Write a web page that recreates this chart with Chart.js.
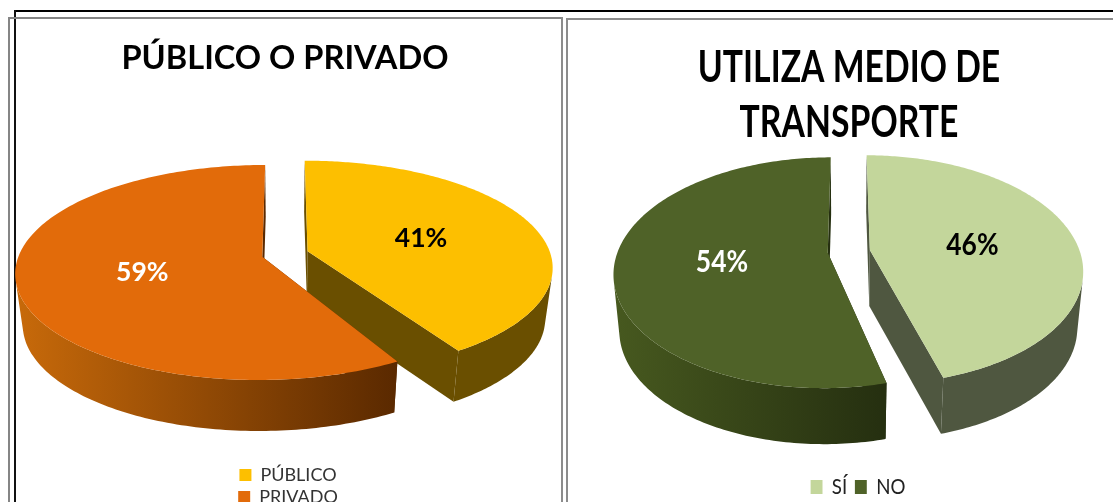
<!DOCTYPE html>
<html lang="es">
<head>
<meta charset="utf-8">
<title>Gráficos</title>
<script src="https://cdn.jsdelivr.net/npm/chart.js@4"></script>
<style>
  html,body{margin:0;padding:0;background:#fff;width:1113px;height:502px;overflow:hidden}
  .f{position:absolute}
  canvas{position:absolute;top:0}
</style>
</head>
<body>
<div class="f" style="left:14px;top:10px;width:1099px;height:2px;background:#000"></div>
<div class="f" style="left:14px;top:10px;width:2px;height:492px;background:#111"></div>
<div class="f" style="left:8px;top:17px;width:554px;height:2px;background:#858585"></div>
<div class="f" style="left:8px;top:17px;width:2px;height:485px;background:#858585"></div>
<div class="f" style="left:561px;top:17px;width:2px;height:485px;background:#8c8c8c"></div>
<div class="f" style="left:566px;top:18px;width:547px;height:2px;background:#8c8c8c"></div>
<div class="f" style="left:566px;top:18px;width:2px;height:484px;background:#8c8c8c"></div>
<canvas id="c1" width="570" height="520" style="left:0"></canvas>
<canvas id="c2" width="528" height="520" style="left:585px"></canvas>
<script>
const categoriesA = ['PÚBLICO', 'PRIVADO'];
const valuesA = [41, 59];
const colorsA = ['#FDBF00', '#E26B0A'];
const labelColorsA = ['#000000', '#FFFFFF'];
const titleA = 'PÚBLICO O PRIVADO';

const categoriesB = ['SÍ', 'NO'];
const valuesB = [46, 54];
const colorsB = ['#C3D69B', '#4F6228'];
const labelColorsB = ['#000000', '#FFFFFF'];
const titleB = ['UTILIZA MEDIO DE', 'TRANSPORTE'];

const FONT = 'Lato, Carlito, sans-serif';

function scaledDraw(box, chart, midX, sx) {
  const draw = box.draw.bind(box);
  box.draw = function () {
    const c = chart.ctx;
    c.save();
    c.translate(midX, 0);
    c.scale(sx, 1);
    c.translate(-midX, 0);
    draw();
    c.restore();
  };
}

function pie3d(g) {
  // Projects each library-computed arc onto a tilted plane with perspective.
  const proj = (u, v, low) => {
    const w = 1 + g.k * v;
    const sx = low ? g.shrink : 1;
    return [g.cx + sx * g.rx * u / w, g.cy - g.ry * v / w + (low ? g.depth : 0)];
  };
  const area = (q) => q.reduce((s, p, i) => {
    const n = q[(i + 1) % q.length];
    return s + p[0] * n[1] - n[0] * p[1];
  }, 0);
  let wrapped = false;
  return {
    id: 'pie3d',
    afterLayout(chart) {
      const tb = chart.titleBlock, lg = chart.legend;
      tb.left = 0;
      tb.right = chart.width;
      lg.left += g.legendShift;
      lg.right += g.legendShift;
      if (!wrapped) {
        wrapped = true;
        if (g.titleScale !== 1) scaledDraw(tb, chart, chart.width / 2, g.titleScale);
        if (g.legendScale !== 1) scaledDraw(lg, chart, chart.width / 2 + g.legendShift, g.legendScale);
      }
    },
    beforeDatasetsDraw(chart) {
      const ctx = chart.ctx;
      const arcs = chart.getDatasetMeta(0).data;
      const values = chart.data.datasets[0].data;
      const colors = chart.data.datasets[0].backgroundColor;
      arcs.forEach((arc, i) => {
        const rawStart = arc.startAngle + Math.PI / 2, rawEnd = arc.endAngle + Math.PI / 2;
        const mid = (rawStart + rawEnd) / 2;
        const a0 = rawStart + g.nudge[i][0], a1 = rawEnd + g.nudge[i][1];
        const ou = g.explode[i] * Math.sin(mid), ov = g.explode[i] * Math.cos(mid);
        const N = 200, rim = [];
        for (let n = 0; n <= N; n++) {
          const t = a0 + (a1 - a0) * n / N;
          rim.push([ou + Math.sin(t), ov + Math.cos(t)]);
        }
        const poly = (pts) => {
          pts.forEach((p, n) => n ? ctx.lineTo(p[0], p[1]) : ctx.moveTo(p[0], p[1]));
          ctx.closePath();
        };
        const w = g.walls[i];
        // cut walls
        ctx.fillStyle = g.cut[i];
        [rim[0], rim[N]].forEach(e => {
          ctx.beginPath();
          poly([proj(ou, ov), proj(e[0], e[1]), proj(e[0], e[1], true), proj(ou, ov, true)]);
          ctx.fill();
        });
        // outer wall: front-facing rim steps only, filled as a single path
        const top = rim.map(p => proj(p[0], p[1]));
        const low = rim.map(p => proj(p[0], p[1], true));
        const xs = top.map(p => p[0]);
        const grad = ctx.createLinearGradient(Math.min(...xs), 0, Math.max(...xs), 0);
        grad.addColorStop(0, w[0]);
        grad.addColorStop(1, w[1]);
        ctx.fillStyle = grad;
        ctx.beginPath();
        for (let n = 0; n < N; n++) {
          const q = [top[n], top[n + 1], low[n + 1], low[n]];
          if (area(q) < 0) poly(q);
        }
        ctx.fill();
        // top face
        ctx.fillStyle = colors[i];
        ctx.beginPath();
        poly([proj(ou, ov)].concat(top));
        ctx.fill();
      });
      arcs.forEach((arc, i) => {
        const mid = (arc.startAngle + arc.endAngle) / 2 + Math.PI / 2;
        const u = (g.explode[i] + 0.5) * Math.sin(mid), v = (g.explode[i] + 0.5) * Math.cos(mid);
        const p = proj(u, v);
        ctx.save();
        ctx.translate(p[0], p[1] + g.labelDy);
        ctx.scale(g.labelScale, 1);
        ctx.font = g.labelFont;
        ctx.textAlign = 'center';
        ctx.textBaseline = 'middle';
        ctx.fillStyle = g.labelColors[i];
        ctx.fillText(values[i] + '%', 0, 0);
        ctx.restore();
      });
      return false;
    }
  };
}

function makeChart(id, labels, values, colors, title, titleOpts, legendOpts, layoutPadding, g) {
  return new Chart(document.getElementById(id), {
    type: 'pie',
    data: { labels, datasets: [{ data: values, backgroundColor: colors, borderWidth: 0 }] },
    plugins: [pie3d(g)],
    options: {
      responsive: false,
      animation: false,
      layout: { padding: layoutPadding },
      plugins: {
        tooltip: { enabled: false },
        title: Object.assign({ display: true, text: title, color: '#000' }, titleOpts),
        legend: legendOpts
      }
    }
  });
}

makeChart('c1', categoriesA, valuesA, colorsA, titleA,
  { font: { family: FONT, weight: 'bold', size: 32.6, lineHeight: 1.2 }, padding: { top: 39, bottom: 0 } },
  { position: 'bottom',
    labels: { boxWidth: 12, boxHeight: 12, padding: 4, color: '#333', font: { family: FONT, size: 18 } } },
  { left: 225, right: 225, bottom: 4 },
  { cx: 285, cy: 254, rx: 243, ry: 104.4, k: 0.145, explode: [0.097, 0.097], depth: 51, shrink: 0.972,
    nudge: [[0, 0], [0.047, 0]], legendShift: 3, titleScale: 1, legendScale: 1,
    walls: [['#6A4F00', '#6A4F00'], ['#C86A0A', '#5A2900']], cut: ['#6A4F00', '#5A2900'],
    labelFont: 'bold 26.5px ' + FONT, labelScale: 1, labelDy: 1, labelColors: labelColorsA });

makeChart('c2', categoriesB, valuesB, colorsB, titleB,
  { font: { family: FONT, weight: 'bold', size: 44, lineHeight: 1.25 }, padding: { top: 40, bottom: 0 } },
  { position: 'bottom',
    labels: { boxWidth: 14, boxHeight: 14, padding: 9, color: '#222', font: { family: FONT, size: 22 } } },
  { bottom: 12 },
  { cx: 263, cy: 251.5, rx: 210, ry: 111.5, k: 0.172, explode: [0.105, 0.097], depth: 56, shrink: 0.975,
    nudge: [[0, -0.028], [0, 0]], legendShift: 9, titleScale: 0.767, legendScale: 0.85,
    walls: [['#4F5740', '#4F5740'], ['#47591F', '#252F10']], cut: ['#4F5740', '#252F10'],
    labelFont: 'bold 30px ' + FONT, labelScale: 0.88, labelDy: 2, labelColors: labelColorsB });
</script>
</body>
</html>
